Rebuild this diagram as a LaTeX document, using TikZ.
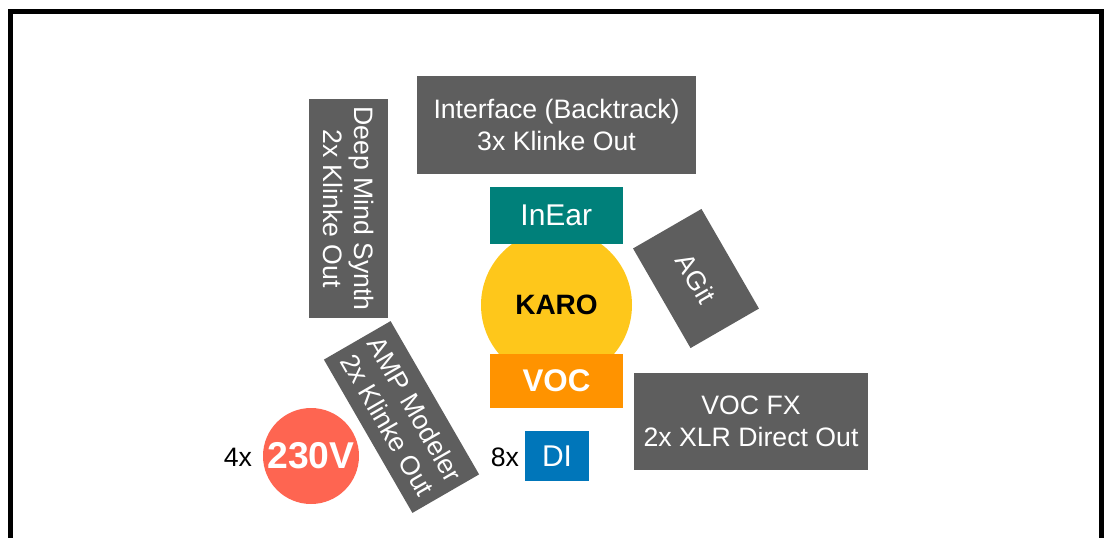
\documentclass[tikz,border=0pt]{standalone}
\usepackage{fontspec}
\setmainfont{Liberation Sans}
\definecolor{boxgray}{HTML}{5E5E5E}
\definecolor{teal2}{HTML}{00807A}
\definecolor{karoy}{HTML}{FEC71B}
\definecolor{vocor}{HTML}{FF9300}
\definecolor{diblue}{HTML}{0076BA}
\definecolor{redv}{HTML}{FE6551}
\tikzset{
  graybox/.style={fill=boxgray, text=white, inner sep=0pt, align=center,
    font=\fontsize{20}{23.8}\selectfont},
  colbox/.style={inner sep=0pt, align=center},
  countlbl/.style={inner sep=0pt, font=\fontsize{20}{24}\selectfont},
}
\begin{document}
\begin{tikzpicture}[x=0.75pt,y=-0.75pt]
\useasboundingbox (0,0) rectangle (1104,537);
\clip (0,0) rectangle (1104,537);
\draw[line width=3.75pt] (10.8,620) -- (10.8,11) -- (1101.5,11) -- (1101.5,620);

\node[graybox, minimum width=209.25pt, minimum height=73.5pt] (iface) at (556.5,125) {Interface (Backtrack)\\3x Klinke Out};
\node[circle, fill=karoy, inner sep=0pt, minimum size=113.25pt, font=\fontsize{21}{24}\selectfont\bfseries] (karo) at (556.5,305) {KARO};
\node[colbox, fill=teal2, text=white, minimum width=99.75pt, minimum height=42.75pt, font=\fontsize{22.5}{26}\selectfont] (inear) at (556.3,215.3) {InEar};
\node[colbox, fill=vocor, text=white, minimum width=99.75pt, minimum height=40.5pt, font=\fontsize{23.5}{26}\selectfont\bfseries] (voc) at (556.5,381) {VOC};
\node[graybox, rotate=-90, minimum width=164.25pt, minimum height=59.25pt] (deep) at (348.5,208.5) {Deep Mind Synth\\2x Klinke Out};
\node[graybox, rotate=-60, minimum width=86.25pt, minimum height=59.25pt] (agit) at (696,278.5) {AGit};
\node[graybox, rotate=-60, minimum width=132.75pt, minimum height=57.75pt] (amp) at (401.5,417) {AMP Modeler\\2x Klinke Out};
\node[graybox, minimum width=175.5pt, minimum height=72.75pt, font=\fontsize{20}{24}\selectfont] (vocfx) at (751,421.5) {VOC FX\\2x XLR Direct Out};
\node[circle, fill=redv, text=white, inner sep=0pt, minimum size=72pt, font=\fontsize{28}{32}\selectfont\bfseries] (power) at (311,456) {230V};
\node[colbox, fill=diblue, text=white, minimum width=48pt, minimum height=37.5pt, font=\fontsize{22.5}{26}\selectfont] (di) at (557,456) {DI};
\node[countlbl] (n4) at (238,457.5) {4x};
\node[countlbl] (n8) at (505,457) {8x};
\end{tikzpicture}
\end{document}
